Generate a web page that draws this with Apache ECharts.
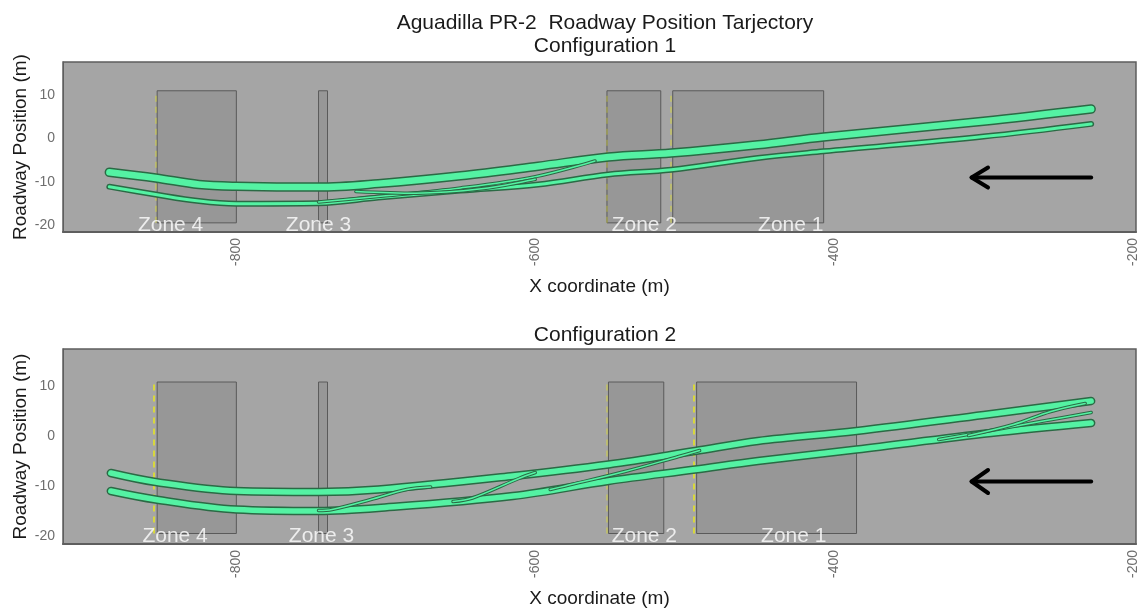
<!DOCTYPE html>
<html>
<head>
<meta charset="utf-8">
<script src="https://cdn.jsdelivr.net/npm/echarts@6/dist/echarts.min.js"></script>
<style>
html,body{margin:0;padding:0;background:#fff;}
#chart{width:1140px;height:612px;}
</style>
</head>
<body>
<div id="chart"></div>
<script>
// ---------- data ----------
const mainTitle = 'Aguadilla PR-2  Roadway Position Tarjectory';
const panelTitles = ['Configuration 1', 'Configuration 2'];
const xName = 'X coordinate (m)';
const yName = 'Roadway Position (m)';
const xTickVals = [-800, -600, -400, -200];
const yTickVals = [-20, -10, 0, 10];
const xRange = [-916, -198];
const yRange = [-21.5, 17.5];

const zoneNames = ['Zone 4', 'Zone 3', 'Zone 2', 'Zone 1'];
const zoneY = [-19.4, 10.9];
const c1ZoneX = [[-853, -800], [-745, -739], [-552, -516], [-508, -407]];
const c2ZoneX = [[-853, -800], [-745, -739], [-551, -514], [-492, -385]];
const c1ZoneLabelX = [-844, -745, -527, -429];
const c2ZoneLabelX = [-841, -743, -527, -427];
const zoneLabelY = -20;
const c1YellowX = [-854, -552, -509];
const c2YellowX = [-855, -552, -494];

// trajectories, configuration 1
const c1Upper = [[-885,-7.8],[-854,-9.1],[-825,-10.6],[-800,-11.0],[-745,-11.2],[-705,-10.4],[-650,-8.6],[-598,-6.4],[-551,-4.3],[-509,-3.4],[-451,-1.5],[-407,0.3],[-300,3.9],[-228,6.7]];
const c1Lower = [[-885,-11.1],[-854,-12.9],[-825,-14.4],[-800,-15.0],[-745,-14.9],[-705,-13.6],[-650,-12.0],[-598,-10.6],[-551,-8.3],[-509,-7.2],[-451,-4.5],[-407,-3.0],[-300,0.4],[-228,3.3]];
const c1Change1 = [[-745,-14.6],[-700,-13.2],[-650,-11.4],[-600,-8.8],[-560,-5.2]];
const c1Change2 = [[-720,-12.2],[-680,-12.6],[-636,-11.6],[-600,-9.4]];

// trajectories, configuration 2
const c2Upper = [[-884,-7.3],[-854,-9.1],[-800,-10.9],[-745,-11.1],[-705,-10.6],[-615,-7.9],[-551,-5.6],[-493,-2.9],[-451,-0.9],[-385,1.1],[-300,4.3],[-228,7.1]];
const c2Lower = [[-884,-10.9],[-854,-12.6],[-800,-14.6],[-745,-14.9],[-705,-14.3],[-615,-11.9],[-551,-8.9],[-493,-6.6],[-451,-4.9],[-385,-2.6],[-295,0.7],[-228,2.7]];
const c2Change1 = [[-745,-14.8],[-736,-14.6],[-710,-12.6],[-686,-10.6],[-670,-10.1]];
const c2Change2 = [[-655,-13.0],[-642,-12.3],[-611,-8.4],[-600,-7.2]];
const c2Change3 = [[-590,-10.6],[-580,-9.9],[-540,-7.0],[-504,-4.0],[-490,-2.8]];
const c2Change4 = [[-330,-0.6],[-295,1.2],[-260,3.1],[-228,4.8]];
const c2Change5 = [[-310,0.2],[-280,2.4],[-255,5.0],[-232,6.6]];

// direction arrow
const arrowShaft = [[-228, -9.0], [-308, -9.0]];
const arrowHead = [[-297, -6.7], [-308, -9.0], [-297, -11.3]];

// ---------- styling / layout ----------
const FONT = 'Liberation Sans, Arial, sans-serif';
const grids = [
  {left: 63, right: 2, top: 62, height: 170},
  {left: 63, right: 2, top: 349, height: 195}
];
const GREEN = '#54f2a3';
const DARK = '#2b6a45';

function traj(panel, data, w, outlineExtra) {
  return [
    {type:'line', xAxisIndex:panel, yAxisIndex:panel, data:data, smooth:0.35, symbol:'none', silent:true, z:5,
     lineStyle:{color:DARK, width:w + outlineExtra, cap:'round', join:'round'}},
    {type:'line', xAxisIndex:panel, yAxisIndex:panel, data:data, smooth:0.35, symbol:'none', silent:true, z:5,
     lineStyle:{color:GREEN, width:w, cap:'round', join:'round'}}
  ];
}

function zonesSeries(panel, zx, labelX, yellowX, yellowAlpha) {
  const out = [];
  out.push({
    type:'line', xAxisIndex:panel, yAxisIndex:panel, data:[], silent:true, z:2,
    markArea:{silent:true,
      itemStyle:{color:'rgba(120,120,120,0.32)', borderColor:'#5a5a5a', borderWidth:1},
      data: zx.map(r => [{coord:[r[0], zoneY[0]]}, {coord:[r[1], zoneY[1]]}])
    },
    markLine:{silent:true, symbol:'none', label:{show:false},
      data: yellowX.map((x, i) => [
        {coord:[x, zoneY[0]], lineStyle:{color:'rgba(235,235,20,' + yellowAlpha[i] + ')', width:1.5, type:[6,5]}},
        {coord:[x, zoneY[1]]}
      ])
    }
  });
  out.push({
    type:'scatter', xAxisIndex:panel, yAxisIndex:panel, symbolSize:0, silent:true, z:8,
    data: labelX.map((x, i) => [x, zoneLabelY, zoneNames[i]]),
    label:{show:true, position:'inside', formatter:p => p.value[2], color:'#ffffff', fontSize:21, fontFamily:FONT}
  });
  return out;
}

function arrowSeries(panel) {
  return [
    {type:'line', xAxisIndex:panel, yAxisIndex:panel, data:arrowShaft, symbol:'none', silent:true, z:6,
     lineStyle:{color:'#000', width:4, cap:'round'}},
    {type:'line', xAxisIndex:panel, yAxisIndex:panel, data:arrowHead, symbol:'none', silent:true, z:6,
     lineStyle:{color:'#000', width:4, cap:'round', join:'round'}}
  ];
}

const xAxes = [0, 1].map(i => ({
  type:'value', gridIndex:i, min:xRange[0], max:xRange[1],
  name:xName, nameLocation:'middle', nameGap:45, nameMoveOverlap:false,
  nameTextStyle:{fontSize:19, color:'#1a1a1a', fontFamily:FONT},
  axisLine:{show:true, onZero:false, lineStyle:{color:'#5e5e5e', width:2}},
  axisTick:{show:false, customValues:xTickVals},
  splitLine:{show:false},
  axisLabel:{rotate:90, customValues:xTickVals, color:'#6e6e6e', fontSize:14, margin:6, fontFamily:FONT}
}));
const yAxes = [0, 1].map(i => ({
  type:'value', gridIndex:i, min:yRange[0], max:yRange[1],
  name:yName, nameLocation:'middle', nameGap:33, nameMoveOverlap:false,
  nameTextStyle:{fontSize:19, color:'#1a1a1a', fontFamily:FONT},
  axisLine:{show:true, onZero:false, lineStyle:{color:'#5e5e5e', width:1}},
  axisTick:{show:false, customValues:yTickVals},
  splitLine:{show:false},
  axisLabel:{customValues:yTickVals, color:'#6e6e6e', fontSize:14, margin:8, fontFamily:FONT}
}));

const series = [].concat(
  zonesSeries(0, c1ZoneX, c1ZoneLabelX, c1YellowX, [0.45, 0.35, 0.45]),
  zonesSeries(1, c2ZoneX, c2ZoneLabelX, c2YellowX, [0.95, 0.45, 0.95]),
  traj(0, c1Lower, 3, 3),
  traj(0, c1Upper, 6.5, 3),
  traj(0, c1Change1, 1.5, 2),
  traj(0, c1Change2, 1.5, 2),
  traj(1, c2Upper, 5.5, 3),
  traj(1, c2Lower, 5.5, 3),
  traj(1, c2Change1, 1.5, 2),
  traj(1, c2Change2, 1.5, 2),
  traj(1, c2Change3, 1.5, 2),
  traj(1, c2Change4, 1.5, 2),
  traj(1, c2Change5, 1.5, 2),
  arrowSeries(0),
  arrowSeries(1)
);

const chart = echarts.init(document.getElementById('chart'), null, {renderer:'canvas'});
chart.setOption({
  backgroundColor:'#ffffff',
  animation:false,
  title:[
    {text:mainTitle, left:600, top:8, textAlign:'center', textStyle:{fontSize:21, fontWeight:'normal', color:'#1a1a1a', fontFamily:FONT}},
    {text:panelTitles[0], left:600, top:31, textAlign:'center', textStyle:{fontSize:21, fontWeight:'normal', color:'#1a1a1a', fontFamily:FONT}},
    {text:panelTitles[1], left:600, top:320, textAlign:'center', textStyle:{fontSize:21, fontWeight:'normal', color:'#1a1a1a', fontFamily:FONT}}
  ],
  grid: grids.map(g => Object.assign({show:true, backgroundColor:'#a5a5a5', borderColor:'#5e5e5e', borderWidth:1.5}, g)),
  xAxis:xAxes,
  yAxis:yAxes,
  series:series
});
</script>
</body>
</html>
